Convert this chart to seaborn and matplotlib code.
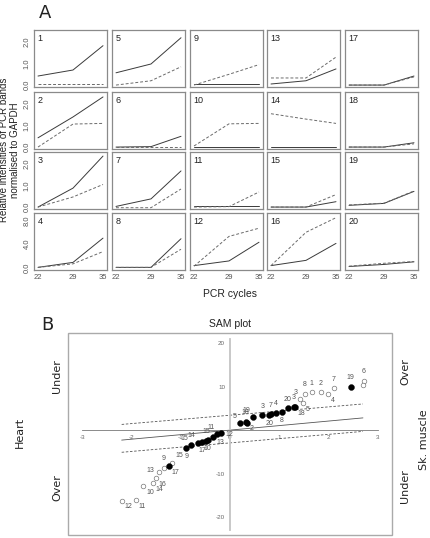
import matplotlib
matplotlib.use("Agg")
import matplotlib.pyplot as plt
import seaborn as sns
import pandas as pd
from matplotlib.patches import Rectangle

# ---------------- Panel A data: PCR band intensities ----------------
cycles = [22, 29, 35]
gene_ids = list(range(1, 21))

# solid line (one list per gene, values at cycles 22, 29, 35)
solid_vals = [
    [0.42, 0.70, 1.83], [0.43, 1.40, 2.33], [0.00, 0.88, 2.37], [0.00, 0.85, 5.00],
    [0.57, 0.98, 2.20], [0.00, 0.02, 0.50], [0.03, 0.38, 1.68], [0.00, 0.00, 4.90],
    [0.05, 0.05, 0.05], [0.00, 0.00, 0.00], [0.05, 0.05, 0.05], [0.30, 1.10, 4.30],
    [0.05, 0.20, 0.75], [0.00, 0.00, 0.00], [0.00, 0.00, 0.25], [0.30, 1.20, 4.10],
    [0.00, 0.00, 0.42], [0.00, 0.00, 0.20], [0.08, 0.17, 0.73], [0.15, 0.50, 0.95],
]
# dashed line
dashed_vals = [
    [0.03, 0.03, 0.03], [0.00, 1.07, 1.10], [0.00, 0.47, 1.05], [0.00, 0.60, 2.70],
    [0.00, 0.20, 0.85], [0.00, 0.00, 0.00], [-0.03, -0.03, 0.84], [0.00, 0.00, 3.10],
    [0.00, 0.50, 0.95], [0.05, 1.08, 1.10], [0.00, 0.02, 0.70], [0.20, 5.30, 6.70],
    [0.33, 0.33, 1.30], [1.55, 1.30, 1.10], [0.00, 0.00, 0.58], [0.30, 6.00, 8.50],
    [0.00, 0.00, 0.38], [0.00, 0.00, 0.15], [0.10, 0.18, 0.75], [0.20, 0.70, 1.00],
]

# ---------------- Panel B data: SAM plot ----------------
sam_x = [2.72, 2.70, 2.11, 2.45, 1.52, 1.66, 1.85, 1.99, 1.43, 1.48,
         0.20, 0.32, 0.34, 0.47, 0.66, 0.83, 0.80, 0.94, 1.05, 1.17, 1.30, 1.32,
         -0.89, -0.80, -0.64, -0.56, -0.49, -0.45, -0.34, -0.26, -0.18,
         -1.17, -1.24, -1.34, -1.45, -1.50, -1.56, -1.76, -2.20, -1.91]
sam_y = [11.3, 10.4, 9.65, 9.9, 8.4, 8.7, 8.7, 8.3, 7.1, 6.2,
         1.6, 1.85, 1.7, 2.9, 3.4, 3.6, 3.5, 4.0, 4.2, 5.0, 5.4, 5.2,
         -4.2, -3.45, -2.9, -2.7, -2.45, -2.3, -1.5, -0.9, -0.6,
         -7.5, -8.2, -8.6, -9.7, -11.1, -12.1, -12.9, -16.2, -16.1]
sam_filled = [0, 0, 0, 1, 0, 0, 0, 0, 0, 0,
              1, 1, 1, 1, 1, 1, 1, 1, 1, 1, 1, 1,
              1, 1, 1, 1, 1, 1, 1, 1, 1,
              0, 1, 0, 0, 0, 0, 0, 0, 0]
sam_labels = ["6", "", "7", "19", "8", "1", "2", "4", "3", "5",
              "5", "18", "2", "19", "3", "7", "20", "4", "8", "20", "3", "18",
              "9", "15", "14", "17", "15", "10", "13", "11", "12",
              "15", "17", "9", "13", "16", "14", "10", "12", "11"]
# label placement code (layout only)
sam_label_pos = ["a", "", "a", "a", "a", "a", "a", "lr", "ul", "lr",
                 "ul", "a", "lr", "ul", "a", "a", "b", "a", "b", "a", "a", "lr",
                 "b", "ul", "ul", "b", "a", "b", "lr", "ul", "r",
                 "ur", "lr", "a", "l", "lr", "lr", "lr", "lr", "lr"]

sam_line_x = [-2.2, 2.7]
sam_solid_y = [-2.3, 2.8]
sam_upper_y = [1.3, 6.0]
sam_lower_y = [-5.1, -0.3]

# ---------------- figure ----------------
sns.set_style("white")
plt.rcParams['font.family'] = ['Liberation Sans', 'DejaVu Sans']

W, H = 431, 538
fig = plt.figure(figsize=(W / 100, H / 100), dpi=100)


def px_axes(left, top, width, height):
    return fig.add_axes([left / W, 1 - (top + height) / H, width / W, height / H])


rows = []
for gi, g in enumerate(gene_ids):
    for ci, c in enumerate(cycles):
        rows.append({"gene": g, "cycle": c, "series": "solid", "value": solid_vals[gi][ci]})
        rows.append({"gene": g, "cycle": c, "series": "dashed", "value": dashed_vals[gi][ci]})
df = pd.DataFrame(rows)

col_left = [34, 112, 190, 267, 345]
row_top = [30, 92, 152, 213]
edge = "#8a8a8a"

for g in gene_ids:
    col = (g - 1) // 4
    row = (g - 1) % 4
    ax = px_axes(col_left[col], row_top[row], 73, 57)
    sub = df[df.gene == g]
    sns.lineplot(data=sub, x="cycle", y="value", hue="series", style="series",
                 palette={"solid": "#3a3a3a", "dashed": "#6a6a6a"},
                 dashes={"solid": "", "dashed": (3, 2)},
                 linewidth=0.7, legend=False, ax=ax)
    ax.set_xlim(21.2, 35.8)
    if row < 3:
        ax.set_ylim(-0.09, 2.56)
        yt, ytl = [0, 1, 2], ["0.0", "1.0", "2.0"]
    else:
        ax.set_ylim(-0.45, 9.3)
        yt, ytl = [0, 4, 8], ["0.0", "4.0", "8.0"]
    for s in ax.spines.values():
        s.set_color(edge)
        s.set_linewidth(0.9)
    ax.set_xlabel("")
    ax.set_ylabel("")
    ax.tick_params(length=2, width=0.5, color="#777", labelsize=5.5,
                   labelcolor="#555", pad=1)
    ax.tick_params(axis="y", pad=0.5)
    if row == 3:
        ax.set_xticks(cycles)
        ax.set_xticklabels([str(c) for c in cycles])
    else:
        ax.set_xticks([])
    if col == 0:
        ax.set_yticks(yt)
        ax.set_yticklabels(ytl, rotation=90, va="center")
    else:
        ax.set_yticks([])
    ax.text(0.05, 0.93, str(g), transform=ax.transAxes, fontsize=6.5,
            ha="left", va="top", color="#222")

fig.text(45 / W, 1 - 13 / H, "A", fontsize=13, family="DejaVu Sans",
         ha="center", va="center", color="#222")
fig.text(9.5 / W, 1 - 150 / H, "Relative intensities of PCR bands\nnormalised to GAPDH",
         rotation=90, fontsize=7, ha="center", va="center", linespacing=1.05,
         multialignment="center", color="#222")
fig.text(230 / W, 1 - 294 / H, "PCR cycles", fontsize=7.5, ha="center",
         va="center", color="#222")

# ---------------- Panel B ----------------
axb = px_axes(68, 333, 324, 202)
axb.set_xlim(-3.29, 3.29)
axb.set_ylim(-24.1, 22.3)

axb.plot(sam_line_x, sam_solid_y, color="#555", lw=0.6)
axb.plot(sam_line_x, sam_upper_y, color="#555", lw=0.6, ls=(0, (3, 2)))
axb.plot(sam_line_x, sam_lower_y, color="#555", lw=0.6, ls=(0, (3, 2)))

sam = pd.DataFrame({"x": sam_x, "y": sam_y, "filled": sam_filled})
sns.scatterplot(data=sam[sam.filled == 0], x="x", y="y", s=11, marker="o",
                facecolor="white", edgecolor="#777", linewidth=0.5, ax=axb, zorder=3)
sns.scatterplot(data=sam[sam.filled == 1], x="x", y="y", s=18, marker="o",
                color="black", edgecolor="black", linewidth=0.3, ax=axb, zorder=4)

offsets = {"a": (0, 4, "center", "bottom"), "b": (0, -3.5, "center", "top"),
           "ul": (-2, 2.5, "right", "bottom"), "ur": (2, 2.5, "left", "bottom"),
           "lr": (2, -2, "left", "top"), "l": (-3, 1, "right", "center"),
           "r": (3, -1, "left", "center")}
for x, y, lab, pos in zip(sam_x, sam_y, sam_labels, sam_label_pos):
    if not lab:
        continue
    dx, dy, ha, va = offsets[pos]
    axb.annotate(lab, (x, y), xytext=(dx, dy), textcoords="offset points",
                 fontsize=5, color="#555", ha=ha, va=va, zorder=5)

axb.spines["top"].set_visible(False)
axb.spines["right"].set_visible(False)
axb.spines["left"].set_position(("data", 0))
axb.spines["bottom"].set_position(("data", 0))
axb.spines["left"].set_bounds(-23, 21)
axb.spines["bottom"].set_bounds(-3, 3)
axb.spines["left"].set_color("#c4c4c4")
axb.spines["left"].set_linewidth(1.3)
axb.spines["bottom"].set_color("#777")
axb.spines["bottom"].set_linewidth(0.6)
axb.set_xticks([-3, -2, -1, 0, 1, 2, 3])
axb.set_xticklabels(["-3", "-2", "-1", "0", "1", "2", "3"])
axb.set_yticks([-20, -10, 10, 20])
axb.set_yticklabels(["-20", "-10", "10", "20"])
axb.tick_params(length=2, width=0.4, color="#777", labelsize=4.5,
                labelcolor="#666", pad=1.5)
axb.set_xlabel("")
axb.set_ylabel("")
axb.add_patch(Rectangle((0, 0), 1, 1, transform=axb.transAxes, fill=False,
                        ec="#aaaaaa", lw=1.0, clip_on=False))

fig.text(230 / W, 1 - 324 / H, "SAM plot", fontsize=7.5, ha="center",
         va="center", color="#222")
fig.text(47 / W, 1 - 325 / H, "B", fontsize=13, family="DejaVu Sans",
         ha="center", va="center", color="#222")

side = dict(rotation=90, fontsize=8, family="DejaVu Sans", ha="center",
            va="center", color="#222")
fig.text(20 / W, 1 - 432 / H, "Heart", **side)
fig.text(57 / W, 1 - 376 / H, "Under", **side)
fig.text(57 / W, 1 - 488 / H, "Over", **side)
fig.text(405 / W, 1 - 372 / H, "Over", **side)
fig.text(424 / W, 1 - 440 / H, "Sk. muscle", **side)
fig.text(405 / W, 1 - 486 / H, "Under", **side)

fig.savefig("out.png", dpi=100)
